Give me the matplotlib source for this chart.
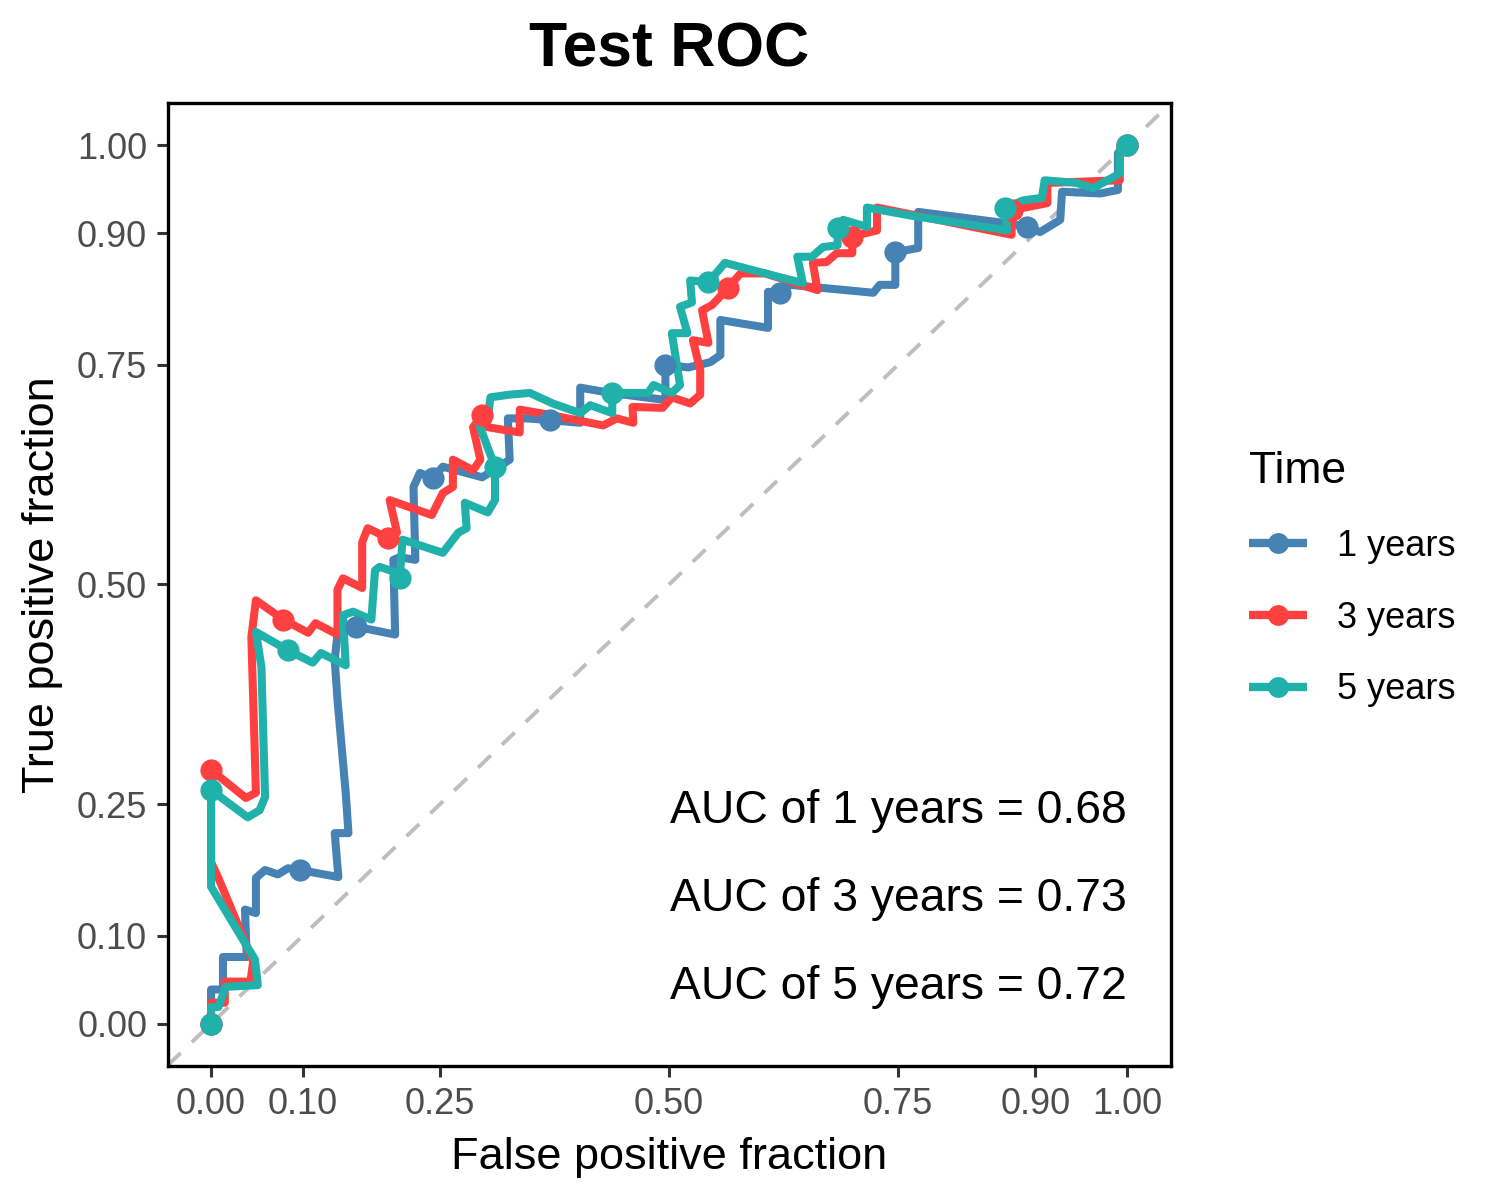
import matplotlib
matplotlib.use('Agg')
import matplotlib.pyplot as plt
from matplotlib.lines import Line2D

plt.rcParams['font.family'] = ['Liberation Sans', 'DejaVu Sans']

# ROC curve points (false / true positive fraction)
fpr_1y = [0, 0, 0.013, 0.013, 0.039, 0.037, 0.049, 0.049, 0.059, 0.073, 0.084, 0.097,
          0.139, 0.135, 0.150, 0.147, 0.138, 0.135, 0.139, 0.158, 0.201, 0.199, 0.206,
          0.223, 0.221, 0.228, 0.242, 0.253, 0.296, 0.326, 0.324, 0.345, 0.370, 0.403,
          0.403, 0.436, 0.496, 0.496, 0.521, 0.545, 0.556, 0.556, 0.608, 0.608, 0.621,
          0.632, 0.723, 0.730, 0.747, 0.747, 0.772, 0.772, 0.869, 0.891, 0.905, 0.927,
          0.929, 0.971, 0.990, 0.990, 1.0]
tpr_1y = [0, 0.039, 0.039, 0.076, 0.076, 0.130, 0.126, 0.166, 0.175, 0.170, 0.177, 0.175,
          0.167, 0.217, 0.217, 0.263, 0.369, 0.414, 0.454, 0.452, 0.443, 0.528, 0.531,
          0.528, 0.611, 0.627, 0.621, 0.634, 0.622, 0.642, 0.689, 0.689, 0.687, 0.684,
          0.724, 0.718, 0.710, 0.750, 0.747, 0.753, 0.761, 0.801, 0.792, 0.833, 0.832,
          0.841, 0.832, 0.841, 0.841, 0.878, 0.883, 0.924, 0.911, 0.907, 0.901, 0.915,
          0.947, 0.945, 0.949, 0.991, 1.0]
mk_1y = [0, 11, 19, 26, 32, 37, 44, 49, 53, 60]

fpr_3y = [0, 0, 0.015, 0.015, 0.043, 0.046, 0.008, 0, 0, 0.038, 0.049, 0.044, 0.049,
          0.079, 0.106, 0.114, 0.138, 0.138, 0.144, 0.165, 0.165, 0.171, 0.193, 0.203,
          0.195, 0.241, 0.253, 0.264, 0.264, 0.286, 0.294, 0.286, 0.296, 0.302, 0.337,
          0.337, 0.370, 0.428, 0.443, 0.461, 0.460, 0.493, 0.503, 0.523, 0.534, 0.534,
          0.526, 0.543, 0.536, 0.547, 0.564, 0.578, 0.605, 0.662, 0.657, 0.672, 0.683,
          0.700, 0.700, 0.727, 0.727, 0.874, 0.874, 0.913, 0.913, 0.992, 0.992, 1.0]
tpr_3y = [0, 0.024, 0.024, 0.048, 0.048, 0.071, 0.166, 0.184, 0.289, 0.257, 0.263, 0.440,
          0.482, 0.460, 0.445, 0.456, 0.443, 0.494, 0.507, 0.496, 0.548, 0.564, 0.553,
          0.559, 0.596, 0.579, 0.604, 0.611, 0.642, 0.630, 0.642, 0.679, 0.693, 0.679,
          0.673, 0.699, 0.693, 0.681, 0.689, 0.684, 0.702, 0.701, 0.713, 0.706, 0.716,
          0.744, 0.778, 0.775, 0.812, 0.818, 0.837, 0.854, 0.854, 0.835, 0.866, 0.867,
          0.877, 0.877, 0.896, 0.903, 0.929, 0.898, 0.926, 0.934, 0.957, 0.960, 0.994, 1.0]
mk_3y = [0, 8, 13, 22, 32, 50, 58, 62, 67]

fpr_5y = [0, 0, 0.008, 0.016, 0.051, 0.048, 0, 0, 0.040, 0.053, 0.059, 0.055, 0.049,
          0.084, 0.111, 0.120, 0.147, 0.144, 0.155, 0.175, 0.179, 0.184, 0.204, 0.206,
          0.209, 0.253, 0.270, 0.279, 0.277, 0.302, 0.310, 0.310, 0.290, 0.302, 0.305,
          0.326, 0.348, 0.373, 0.403, 0.414, 0.438, 0.438, 0.477, 0.483, 0.503, 0.512,
          0.503, 0.520, 0.512, 0.525, 0.523, 0.543, 0.561, 0.605, 0.646, 0.640, 0.656,
          0.668, 0.684, 0.684, 0.690, 0.716, 0.716, 0.763, 0.869, 0.867, 0.886, 0.907,
          0.910, 0.945, 0.963, 0.989, 0.992, 0.992, 1.0]
tpr_5y = [0, 0.019, 0.019, 0.042, 0.044, 0.073, 0.156, 0.266, 0.235, 0.243, 0.258, 0.406,
          0.446, 0.425, 0.411, 0.422, 0.408, 0.465, 0.469, 0.460, 0.516, 0.520, 0.513,
          0.507, 0.551, 0.536, 0.559, 0.564, 0.593, 0.582, 0.596, 0.634, 0.689, 0.687,
          0.713, 0.716, 0.718, 0.706, 0.695, 0.704, 0.695, 0.718, 0.718, 0.727, 0.718,
          0.727, 0.786, 0.786, 0.816, 0.821, 0.846, 0.844, 0.866, 0.854, 0.843, 0.873,
          0.873, 0.884, 0.886, 0.906, 0.915, 0.907, 0.929, 0.920, 0.903, 0.928, 0.937,
          0.940, 0.960, 0.957, 0.951, 0.966, 0.968, 0.994, 1.0]
mk_5y = [0, 7, 13, 23, 31, 41, 51, 59, 65, 74]

series = ['1 years', '3 years', '5 years']
auc = [0.68, 0.73, 0.72]
auc_y = [0.25, 0.15, 0.05]
colours = ['#4682B4', '#FF4040', '#20B2AA']
ticks = [0, 0.10, 0.25, 0.50, 0.75, 0.90, 1.00]

curves = [(fpr_1y, tpr_1y, mk_1y), (fpr_3y, tpr_3y, mk_3y), (fpr_5y, tpr_5y, mk_5y)]

fig = plt.figure(figsize=(15, 12), dpi=100)
ax = fig.add_axes([0.112, 0.1117, 0.6687, 0.8025])

ax.axline((0, 0), (1, 1), color='#BEBEBE', lw=2.8, ls=(0, (4.5, 4)), zorder=1)

for (fpr, tpr, mk), col in zip(curves, colours):
    ax.plot(fpr, tpr, color=col, lw=5.8, solid_joinstyle='round', zorder=2)
    ax.plot([fpr[i] for i in mk], [tpr[i] for i in mk], 'o', color=col,
            markersize=16, markeredgewidth=0, zorder=3)

for name, a, y in zip(series, auc, auc_y):
    ax.annotate(f'AUC of {name} = {a:.2f}', (1.0, y), xytext=(0, -5),
                textcoords='offset points', ha='right', va='center', fontsize=33.3)

ax.set_xlim(-0.047, 1.048)
ax.set_ylim(-0.048, 1.048)
ax.set_xticks(ticks)
ax.set_yticks(ticks)
ax.set_xticklabels([f'{t:.2f}' for t in ticks])
ax.set_yticklabels([f'{t:.2f}' for t in ticks])
ax.tick_params(length=8, width=2.2, color='#333333', labelcolor='#4D4D4D',
               labelsize=26, pad=7)
for sp in ax.spines.values():
    sp.set_linewidth(2.4)
    sp.set_color('black')

ax.set_xlabel('False positive fraction', fontsize=32.5, labelpad=11)
ax.set_ylabel('True positive fraction', fontsize=32.5, labelpad=10)
ax.set_title('Test ROC', fontsize=45, fontweight='bold', pad=26)

handles = [Line2D([], [], color=c, lw=6, marker='o', markersize=15, markeredgewidth=0,
                  solid_capstyle='butt')
           for c in colours]
fig.legend(handles, series, title='Time', loc='upper left',
           bbox_to_anchor=(1249 / 1500, 1 - 451 / 1200), frameon=False,
           fontsize=26, title_fontsize=32, handlelength=1.6, handletextpad=0.85,
           labelspacing=1.02, alignment='left', borderaxespad=0, borderpad=0)

fig.savefig('out.png', dpi=100)
